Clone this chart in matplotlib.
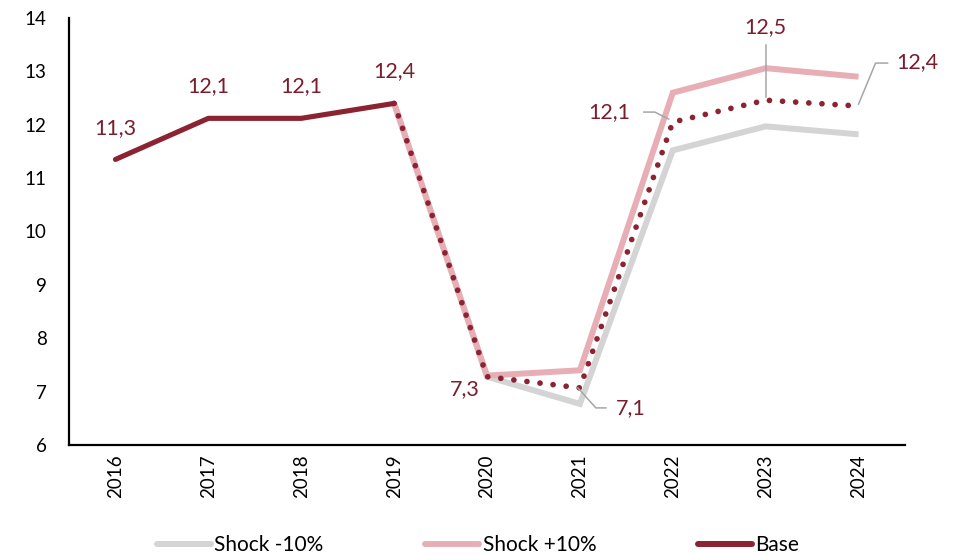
import matplotlib
matplotlib.use("Agg")
import matplotlib.pyplot as plt
from matplotlib.lines import Line2D

plt.rcParams['font.family'] = ['Lato', 'DejaVu Sans']

years = ["2016", "2017", "2018", "2019", "2020", "2021", "2022", "2023", "2024"]
base = [11.35, 12.12, 12.12, 12.4, 7.28, 7.07, 12.05, 12.46, 12.35]
shock_minus = [None, None, None, 12.4, 7.28, 6.77, 11.52, 11.97, 11.82]
shock_plus = [None, None, None, 12.4, 7.3, 7.4, 12.6, 13.06, 12.9]
base_labels = ["11,3", "12,1", "12,1", "12,4", "7,3", "7,1", "12,1", "12,5", "12,4"]

C_BASE = "#8B2332"
C_LABEL = "#7A1E2E"
C_PLUS = "#E8AEB5"
C_MINUS = "#D4D4D4"
C_LEADER = "#A6A6A6"

W, H = 967, 555
fig = plt.figure(figsize=(W / 100, H / 100), dpi=100)
ax = fig.add_axes([69 / W, 1 - 445 / H, (905 - 69) / W, (445 - 18) / H])

x = list(range(len(years)))
xm = [i for i, v in enumerate(shock_minus) if v is not None]
ax.plot(xm, [shock_minus[i] for i in xm], color=C_MINUS, lw=4.3,
        solid_joinstyle='miter', solid_capstyle='butt', zorder=2)
xp = [i for i, v in enumerate(shock_plus) if v is not None]
ax.plot(xp, [shock_plus[i] for i in xp], color=C_PLUS, lw=4.3,
        solid_joinstyle='miter', solid_capstyle='butt', zorder=3)
ax.plot(x[:4], base[:4], color=C_BASE, lw=3.7, solid_capstyle='round',
        solid_joinstyle='round', zorder=4)
ax.plot(x[3:], base[3:], color=C_BASE, lw=4.1, linestyle=(0, (0.01, 2.3)),
        dash_capstyle='round', zorder=4)

ax.set_xlim(-0.5, len(years) - 0.5)
ax.set_ylim(6, 14)
ax.set_yticks(range(6, 15))
ax.set_xticks(x)
ax.set_xticklabels(years, rotation=90)
ax.tick_params(axis='both', length=0, labelsize=13.5, colors='black')
ax.tick_params(axis='x', pad=7)
ax.tick_params(axis='y', pad=16)
for s in ['top', 'right']:
    ax.spines[s].set_visible(False)
for s in ['left', 'bottom']:
    ax.spines[s].set_linewidth(1.6)
    ax.spines[s].set_color('black')

# label offsets in pixels (image down = positive dy)
specs = {
    0: dict(text=(0, -31), ha='center'),
    1: dict(text=(0, -32), ha='center'),
    2: dict(text=(0, -32), ha='center'),
    3: dict(text=(0, -32), ha='center'),
    4: dict(text=(-7, 12), ha='right'),
    5: dict(text=(36, 20), ha='left', leader=[(-2, 0), (16, 20), (26, 20)]),
    6: dict(text=(-42, -10), ha='right', leader=[(-4, -3), (-18, -10), (-29, -10)]),
    7: dict(text=(0, -73), ha='center', leader=[(0, -3), (0, -55)]),
    8: dict(text=(38, -44), ha='left', leader=[(0, -2), (17, -43), (29, -43)]),
}

fig.canvas.draw()
for i, sp in specs.items():
    px, py = ax.transData.transform((x[i], base[i]))
    tx, ty = sp['text']
    fig.text((px + tx) / W, (py - ty) / H, base_labels[i], color=C_LABEL,
             fontsize=15.5, ha=sp['ha'], va='center')
    if 'leader' in sp:
        xs = [(px + dx) / W for dx, dy in sp['leader']]
        ys = [(py - dy) / H for dx, dy in sp['leader']]
        fig.add_artist(Line2D(xs, ys, color=C_LEADER, lw=1.1,
                              transform=fig.transFigure, zorder=5))

handles = [Line2D([], [], color=C_MINUS, lw=4.3, solid_capstyle='round'),
           Line2D([], [], color=C_PLUS, lw=4.3, solid_capstyle='round'),
           Line2D([], [], color=C_BASE, lw=4.3, solid_capstyle='round')]
fig.legend(handles, ["Shock -10%", "Shock +10%", "Base"], loc='center',
           bbox_to_anchor=(478 / W, 1 - 545 / H), ncol=3, frameon=False,
           fontsize=15, handlelength=2.6, handletextpad=0.15,
           columnspacing=4.9)

fig.savefig("out.png", dpi=100)
